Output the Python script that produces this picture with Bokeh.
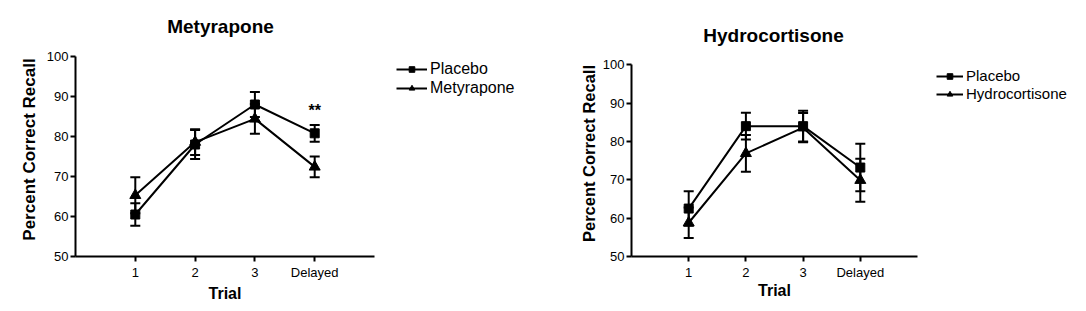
import math
from bokeh.plotting import figure
from bokeh.layouts import row
from bokeh.models import (ColumnDataSource, Whisker, TeeHead, Legend, LegendItem,
                          FixedTicker, Range1d)
from bokeh.embed import file_html
from bokeh.resources import INLINE
from bokeh.core.properties import value

FONT = "Liberation Sans"

trials = ["1", "2", "3", "Delayed"]
y_ticks = [50, 60, 70, 80, 90, 100]
x_bounds = (0, 5)
y_bounds = (50, 100)
x_title = "Trial"
y_title = "Percent Correct Recall"

met_title = "Metyrapone"
met_placebo = [60.5, 78.0, 88.0, 80.8]
met_placebo_err = [2.8, 3.6, 3.1, 2.1]
met_drug = [65.3, 78.6, 84.4, 72.4]
met_drug_err = [4.5, 3.2, 3.7, 2.6]
met_sig_label = "**"
met_sig_y = 86.5

hyd_title = "Hydrocortisone"
hyd_placebo = [62.5, 84.0, 84.0, 73.2]
hyd_placebo_err = [4.5, 3.5, 4.0, 6.2]
hyd_drug = [58.8, 76.9, 83.6, 69.9]
hyd_drug_err = [4.0, 4.8, 3.8, 5.6]

W, H = 543, 311


def panel(title, drug_name, placebo, placebo_err, drug, drug_err,
          x0_px, x_scale, y50_px, y_scale, title_px, ylab_px, ylab_font, xlab_py,
          leg_loc, leg_font, glyph_w, sig=None):
    xs = list(range(1, len(trials) + 1))
    # screen-pixel geometry -> data ranges
    xr = Range1d(-x0_px / x_scale, (W - x0_px) / x_scale)
    yr = Range1d(50 - (H - y50_px) / y_scale, 50 + y50_px / y_scale)

    def dx(px):
        return (px - x0_px) / x_scale

    def dy(py):
        return 50 + (y50_px - py) / y_scale

    p = figure(width=W, height=H, min_border=0,
               x_range=xr, y_range=yr,
               output_backend="svg", toolbar_location=None)
    p.outline_line_color = None
    p.xgrid.visible = False
    p.ygrid.visible = False
    p.background_fill_color = "white"
    p.border_fill_color = "white"

    for ax in (p.xaxis[0], p.yaxis[0]):
        ax.axis_line_width = 2
        ax.major_tick_line_width = 2
        ax.major_tick_in = 0
        ax.major_tick_out = 5
        ax.minor_tick_line_color = None
        ax.major_label_text_font = FONT
        ax.major_label_text_font_size = "13px"
        ax.major_label_text_color = "black"
    p.xaxis.fixed_location = y_bounds[0]
    p.yaxis.fixed_location = x_bounds[0]
    p.xaxis.ticker = FixedTicker(ticks=xs)
    p.xaxis.bounds = x_bounds
    p.xaxis.major_label_overrides = {x: t for x, t in zip(xs, trials)}
    p.xaxis.major_label_standoff = 3
    p.yaxis.ticker = FixedTicker(ticks=y_ticks)
    p.yaxis.bounds = y_bounds
    p.yaxis.major_label_standoff = 2

    p.text(x=[dx(title_px[0])], y=[dy(title_px[1])], text=[title], text_align="center",
           text_baseline="middle", text_font=value(FONT), text_font_size="19px",
           text_font_style="bold", text_color="black")
    p.text(x=[sum(x_bounds) / 2], y=[dy(xlab_py)], text=[x_title], text_align="center",
           text_baseline="middle", text_font=value(FONT), text_font_size="16px",
           text_font_style="bold", text_color="black")
    p.text(x=[dx(ylab_px[0])], y=[dy(ylab_px[1])], text=[y_title], angle=math.pi / 2,
           text_align="center", text_baseline="middle", text_font=value(FONT),
           text_font_size=ylab_font, text_font_style="bold", text_color="black")

    series = [("Placebo", placebo, placebo_err, "square", 9),
              (drug_name, drug, drug_err, "triangle", 11)]
    items = []
    for name, ys, es, marker, size in series:
        src = ColumnDataSource(dict(x=xs, y=ys,
                                    lo=[y - e for y, e in zip(ys, es)],
                                    hi=[y + e for y, e in zip(ys, es)]))
        w = Whisker(source=src, base="x", lower="lo", upper="hi",
                    line_color="black", line_width=2,
                    lower_head=TeeHead(size=10, line_width=2, line_color="black"),
                    upper_head=TeeHead(size=10, line_width=2, line_color="black"))
        p.add_layout(w)
        lr = p.line("x", "y", source=src, line_color="black", line_width=2)
        sr = p.scatter("x", "y", source=src, marker=marker, size=size,
                       fill_color="black", line_color="black")
        items.append(LegendItem(label=name, renderers=[lr, sr]))

    if sig is not None:
        p.text(x=[xs[-1]], y=[sig[1]], text=[sig[0]], text_align="center",
               text_baseline="middle", text_font=value(FONT),
               text_font_size="16px", text_font_style="bold", text_color="black")

    leg = Legend(items=items, location=leg_loc, border_line_color=None,
                 background_fill_alpha=0, padding=0, margin=0, spacing=1,
                 glyph_width=glyph_w, glyph_height=14, label_standoff=3,
                 label_text_font=FONT, label_text_font_size=leg_font,
                 label_text_color="black")
    p.add_layout(leg)
    return p


p1 = panel(met_title, "Metyrapone", met_placebo, met_placebo_err,
           met_drug, met_drug_err,
           75, 59.8, 256, 4.0, (220, 26), (29, 149), "17px", 293,
           (396, 214), "16px", 31,
           sig=(met_sig_label, met_sig_y))
p2 = panel(hyd_title, "Hydrocortisone", hyd_placebo, hyd_placebo_err,
           hyd_drug, hyd_drug_err,
           88, 57.2, 256, 3.834, (230, 35), (45, 153), "16.5px", 290,
           (393, 209), "15px", 27)

layout = row(p1, p2, spacing=0)
open("out.html", "w").write(file_html(layout, INLINE))
